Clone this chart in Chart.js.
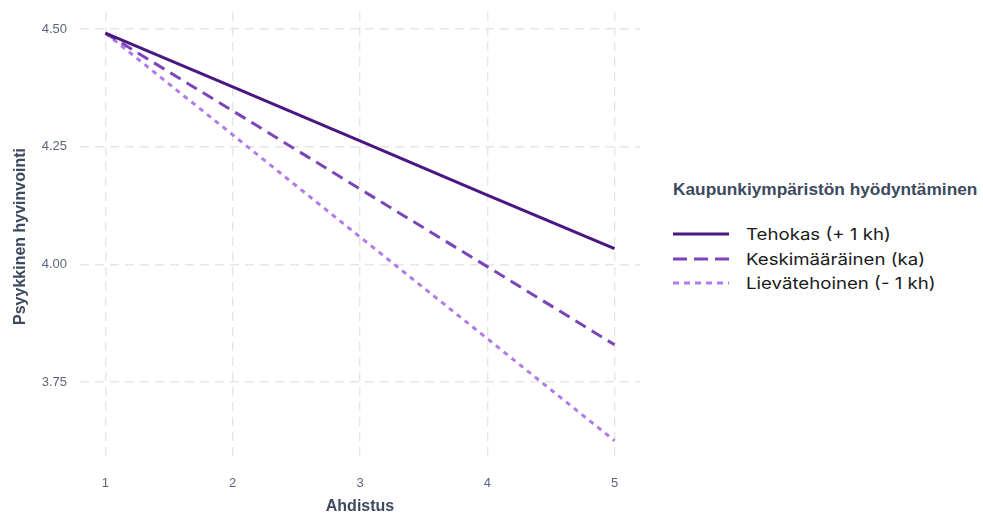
<!DOCTYPE html>
<html>
<head>
<meta charset="utf-8">
<script src="https://cdn.jsdelivr.net/npm/chart.js@4/dist/chart.umd.min.js"></script>
<style>
  html, body { margin:0; padding:0; background:#fff; }
  #wrap { position:relative; width:983px; height:516px; }
  #chartBox { position:absolute; left:0; top:0; width:650px; height:516px; }
  #legend { position:absolute; left:673px; top:181px; font-family:"Liberation Sans", Arial, sans-serif; }
  #legend .title { font-weight:bold; font-size:16px; color:#3d4a5e; white-space:nowrap; transform:scaleX(1.08); transform-origin:left; }
  #legend .row { display:flex; align-items:center; height:24.5px; }
  #legend .row span { display:inline-block; font-family:Inter, "Liberation Sans", sans-serif; font-size:16.5px; color:#1a1a1a; margin-left:17px; white-space:nowrap; transform:scaleX(1.13); transform-origin:left; }
  #legend .items { margin-top:23px; }
</style>
</head>
<body>
<div id="wrap">
  <div id="chartBox"><canvas id="c"></canvas></div>
  <div id="legend"><div class="title" id="lt"></div><div class="items" id="li"></div></div>
</div>
<script>
// ---- data ----
const xValues = [1, 2, 3, 4, 5];
const tehokas = [4.491, 4.377, 4.262, 4.147, 4.033];
const keskimaarainen = [4.491, 4.326, 4.160, 3.995, 3.829];
const lievatehoinen = [4.491, 4.275, 4.058, 3.842, 3.625];
const seriesNames = ["Tehokas (+ 1 kh)", "Keskimääräinen (ka)", "Lievätehoinen (- 1 kh)"];
const xTicks = [1, 2, 3, 4, 5];
const yTicks = [3.75, 4.00, 4.25, 4.50];
const xTitle = "Ahdistus";
const yTitle = "Psyykkinen hyvinvointi";
const legendTitle = "Kaupunkiympäristön hyödyntäminen";

// ---- styles ----
const colors = ["#4a1782", "#7b44b8", "#b27ce8"];
const dashes = [[], [12, 7], [5, 5]];
const legendDashes = ["", "14 7", "6 5"];

const seriesVals = [tehokas, keskimaarainen, lievatehoinen];
const datasets = seriesVals.map((vals, i) => ({
  label: seriesNames[i],
  data: xValues.map((x, j) => ({ x: x, y: vals[j] })),
  borderColor: colors[i],
  backgroundColor: colors[i],
  borderWidth: 3,
  borderDash: dashes[i],
  borderCapStyle: 'butt',
  pointRadius: 0,
  tension: 0,
  fill: false
}));

const tickColor = "#5b6778";
const titleColor = "#3d4a5e";
const gridCfg = { color: "#e6e6e6", lineWidth: 1.4, drawTicks: false };

new Chart(document.getElementById('c'), {
  type: 'line',
  data: { datasets },
  options: {
    responsive: true,
    maintainAspectRatio: false,
    animation: false,
    layout: { padding: { left: 0, right: 10, top: 12, bottom: 0 } },
    plugins: { legend: { display: false }, tooltip: { enabled: false } },
    scales: {
      x: {
        type: 'linear',
        min: 0.8, max: 5.2,
        afterBuildTicks: s => { s.ticks = xTicks.map(v => ({ value: v })); },
        afterFit: s => { s.height = 55; s.paddingLeft = 0; s.paddingRight = 0; },
        grid: gridCfg,
        border: { display: false, dash: [9, 6] },
        ticks: { color: tickColor, font: { family: "Liberation Sans", size: 13 }, padding: 15, callback: v => String(v) },
        title: { display: true, text: xTitle, color: titleColor, font: { family: "Liberation Sans", size: 16, weight: 'bold' }, padding: { top: 0, bottom: 0 } }
      },
      y: {
        type: 'linear',
        min: 3.582, max: 4.536,
        afterBuildTicks: s => { s.ticks = yTicks.map(v => ({ value: v })); },
        afterFit: s => { s.width = 80; s.paddingTop = 0; s.paddingBottom = 0; },
        grid: gridCfg,
        border: { display: false, dash: [9, 6] },
        ticks: { color: tickColor, font: { family: "Liberation Sans", size: 13 }, padding: 13, callback: v => Number(v).toFixed(2) },
        title: { display: true, text: yTitle, color: titleColor, font: { family: "Liberation Sans", size: 16, weight: 'bold' }, padding: { top: 11, bottom: 0 } }
      }
    }
  }
});

// ---- legend (HTML) ----
document.getElementById('lt').textContent = legendTitle;
const li = document.getElementById('li');
seriesNames.forEach((name, i) => {
  const row = document.createElement('div');
  row.className = 'row';
  row.innerHTML = '<svg width="56" height="6"><line x1="0" y1="3" x2="56" y2="3" stroke="' + colors[i] +
    '" stroke-width="3" stroke-dasharray="' + legendDashes[i] + '"/></svg>';
  const sp = document.createElement('span');
  sp.textContent = name;
  row.appendChild(sp);
  li.appendChild(row);
});
</script>
</body>
</html>
